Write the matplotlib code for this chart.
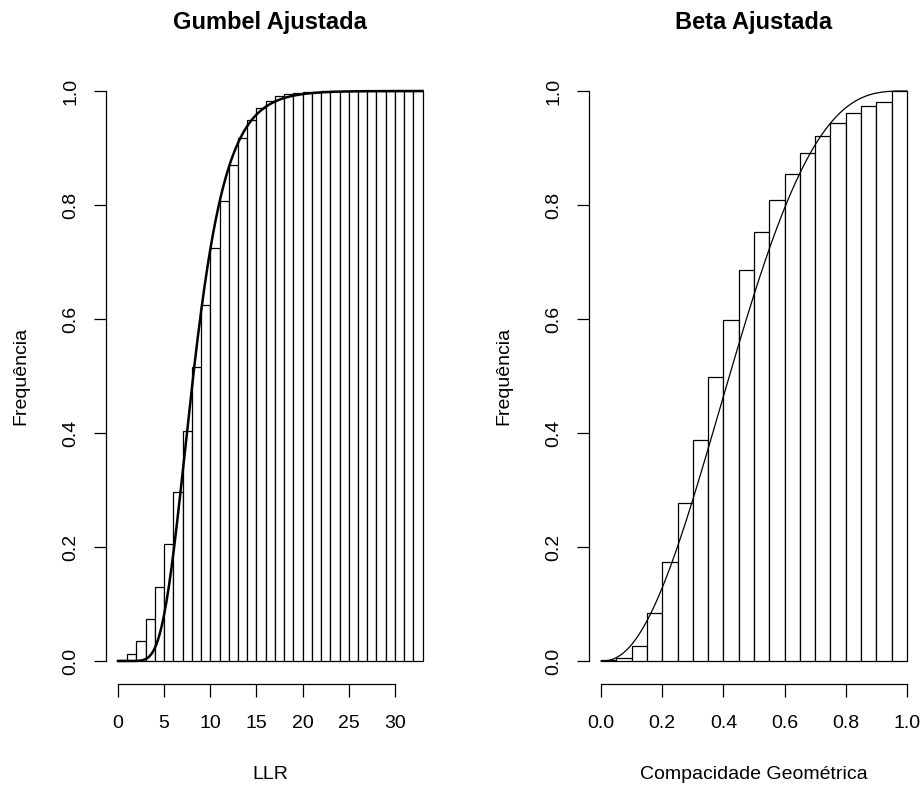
import numpy as np
import matplotlib.pyplot as plt

plt.rcParams['font.family'] = ['Liberation Sans', 'DejaVu Sans']

# frequencias acumuladas - LLR (classes de largura 1, de 0 a 33)
llr_start = 0
llr_width = 1
llr_freq = [0.002, 0.012, 0.035, 0.074, 0.130, 0.205, 0.297, 0.403, 0.515, 0.625,
            0.724, 0.807, 0.871, 0.917, 0.949, 0.970, 0.983, 0.991, 0.995, 0.997,
            0.998, 0.999, 1.0, 1.0, 1.0, 1.0, 1.0, 1.0, 1.0, 1.0, 1.0, 1.0, 1.0]
llr_ticks = [0, 5, 10, 15, 20, 25, 30]
# parametros da Gumbel ajustada
gumbel_mu = 7.25
gumbel_beta = 2.45

# frequencias acumuladas - compacidade geometrica (classes de 0.05)
cg_start = 0.0
cg_width = 0.05
cg_freq = [0.002, 0.005, 0.027, 0.084, 0.174, 0.277, 0.388, 0.498, 0.598, 0.686,
           0.752, 0.808, 0.854, 0.892, 0.921, 0.944, 0.962, 0.974, 0.981, 1.0]
cg_ticks = [0.0, 0.2, 0.4, 0.6, 0.8, 1.0]
# parametros da Beta ajustada
beta_a = 2.4
beta_b = 3.2

freq_ticks = [0.0, 0.2, 0.4, 0.6, 0.8, 1.0]

W, H = 923, 787
fig = plt.figure(figsize=(W / 100, H / 100), dpi=100)


def px(x, y):
    return x / W, 1 - y / H


def r_axes(left, right, xlo, xhi, xticks, xfmt):
    x0, y0 = px(left, 683.8)
    ax = fig.add_axes([x0, y0, (right - left) / W, (683.8 - 68.2) / H])
    span = xhi - xlo
    ax.set_xlim(xlo - 0.04 * span, xhi + 0.04 * span)
    ax.set_ylim(-0.04, 1.04)
    for s in ['top', 'right']:
        ax.spines[s].set_visible(False)
    for s in ['left', 'bottom']:
        ax.spines[s].set_linewidth(0.9)
    ax.spines['bottom'].set_bounds(xticks[0], xticks[-1])
    ax.spines['left'].set_bounds(0, 1)
    ax.set_xticks(xticks)
    ax.set_xticklabels([xfmt.format(t) for t in xticks])
    ax.set_yticks(freq_ticks)
    ax.set_yticklabels(['{:.1f}'.format(t) for t in freq_ticks])
    ax.tick_params(direction='out', length=9, width=0.9, labelsize=14)
    ax.tick_params(axis='x', pad=13.5)
    ax.tick_params(axis='y', pad=10, labelrotation=90)
    for lab in ax.get_yticklabels():
        lab.set_verticalalignment('center')
    return ax


# ---- Gumbel ----
ax1 = r_axes(105.8, 434.8, 0, 33, llr_ticks, '{:d}')
n1 = len(llr_freq)
lefts1 = llr_start + llr_width * np.arange(n1)
ax1.bar(lefts1, llr_freq, width=llr_width, align='edge',
        facecolor='white', edgecolor='black', linewidth=0.9)
xg = np.linspace(llr_start, llr_start + n1 * llr_width, 600)
ax1.plot(xg, np.exp(-np.exp(-(xg - gumbel_mu) / gumbel_beta)),
         color='black', linewidth=1.8)

# ---- Beta ----
ax2 = r_axes(588.8, 919.2, 0, 1, cg_ticks, '{:.1f}')
n2 = len(cg_freq)
lefts2 = cg_start + cg_width * np.arange(n2)
ax2.bar(lefts2, cg_freq, width=cg_width, align='edge',
        facecolor='white', edgecolor='black', linewidth=0.9)
xb = np.linspace(0, 1, 2001)
pdf = xb ** (beta_a - 1) * (1 - xb) ** (beta_b - 1)
cdf = np.concatenate([[0], np.cumsum((pdf[1:] + pdf[:-1]) / 2 * np.diff(xb))])
cdf /= cdf[-1]
ax2.plot(xb, cdf, color='black', linewidth=0.9)

# titulos e rotulos
for cx, title, xlab in [(270.3, 'Gumbel Ajustada', 'LLR'),
                        (754.0, 'Beta Ajustada', 'Compacidade Geométrica')]:
    fig.text(*px(cx, 29), title, ha='center', va='baseline',
             fontsize=17, fontweight='bold')
    fig.text(*px(cx, 779), xlab, ha='center', va='baseline', fontsize=14)

for bx in [25, 508]:
    fig.text(*px(bx, 376), 'Frequência', rotation=90, ha='center',
             va='baseline', fontsize=14, rotation_mode='anchor')

fig.savefig('out.png', dpi=100)
